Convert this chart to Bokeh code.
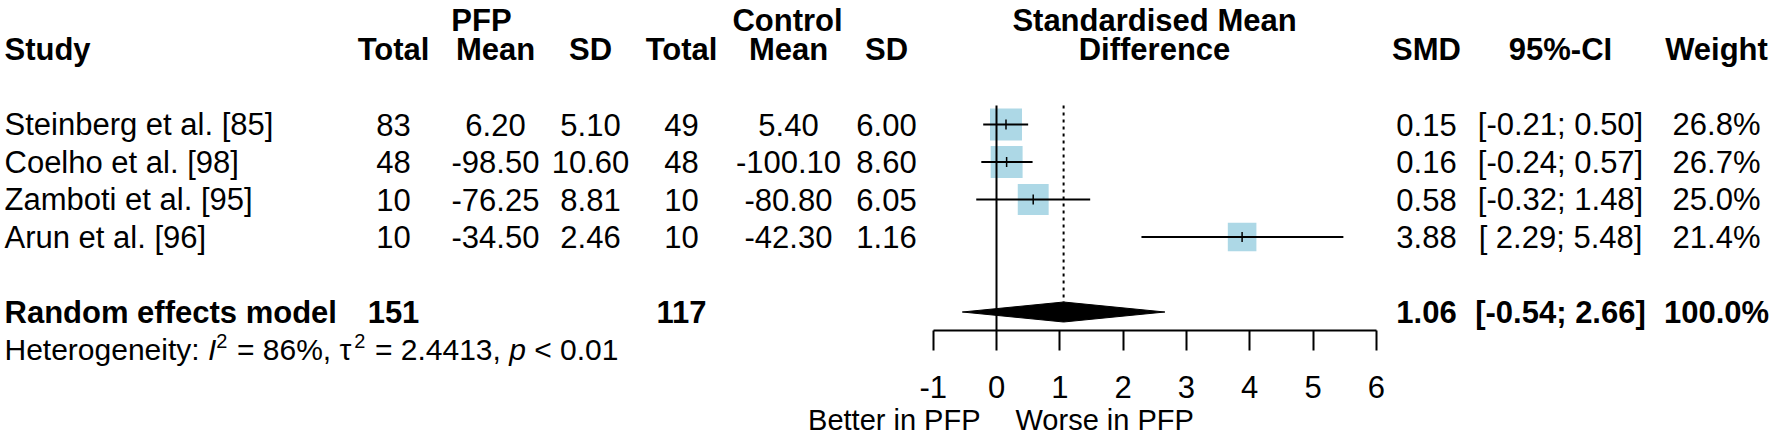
import math
from bokeh.plotting import figure
from bokeh.models import Range1d, LinearAxis, FixedTicker, ColumnDataSource
from bokeh.core.properties import value
from bokeh.embed import file_html
from bokeh.resources import INLINE

# ---------------- data ----------------
studies = ["Steinberg et al. [85]", "Coelho et al. [98]", "Zamboti et al. [95]", "Arun et al. [96]"]
pfp_total = [83, 48, 10, 10]
pfp_mean = [6.20, -98.50, -76.25, -34.50]
pfp_sd = [5.10, 10.60, 8.81, 2.46]
ctrl_total = [49, 48, 10, 10]
ctrl_mean = [5.40, -100.10, -80.80, -42.30]
ctrl_sd = [6.00, 8.60, 6.05, 1.16]
smd = [0.15, 0.16, 0.58, 3.88]
ci_low = [-0.21, -0.24, -0.32, 2.29]
ci_high = [0.50, 0.57, 1.48, 5.48]
weight = [26.8, 26.7, 25.0, 21.4]

pooled_label = "Random effects model"
pooled_pfp_total = 151
pooled_ctrl_total = 117
pooled_smd = 1.06
pooled_low = -0.54
pooled_high = 2.66
pooled_weight = 100.0

het_i2 = 86
het_tau2 = 2.4413
het_p = "< 0.01"

tick_values = [-1, 0, 1, 2, 3, 4, 5, 6]
tick_labels = ["-1", "0", "1", "2", "3", "4", "5", "6"]
label_left = "Better in PFP"
label_right = "Worse in PFP"

# ---------------- layout constants ----------------
W, H = 1770, 439
FONT = "Liberation Sans"
FS = 31
FS_HET = 30
FS_BOTTOM = 29
X0_PAGE = 996.0       # page x of SMD = 0
PX_PER_UNIT = 63.3    # pixels per SMD unit
ROW_PX = 37.5
ROW1_PAGE = 124.0     # page y of first study row


def X(page_x):
    return (page_x - X0_PAGE) / PX_PER_UNIT


def R(page_y):
    return 1 + (page_y - ROW1_PAGE) / ROW_PX


p = figure(width=W, height=H,
           x_range=Range1d(X(0), X(W)),
           y_range=Range1d(R(H), R(0)),
           output_backend="svg", toolbar_location=None,
           x_axis_type=None, y_axis_type=None, min_border=0,
           outline_line_color=None, background_fill_color="white",
           border_fill_color="white")


def txt(xs, ys, texts, align="center", style="normal", size=FS, xo=None, baseline="middle"):
    n = len(texts)
    src = ColumnDataSource(dict(x=xs, y=ys, text=texts, xo=xo if xo is not None else [0] * n))
    p.text(x="x", y="y", text="text", source=src, x_offset="xo",
           text_font=value(FONT), text_font_size=value(f"{size}px"),
           text_font_style=style, text_align=align, text_baseline=baseline,
           text_color="black")


rows = [1, 2, 3, 4]
pool_row = 6
het_row = 7
hdr1 = R(20)
hdr2 = -1

# column centres (page px)
C_STUDY = 4
C_PT, C_PM, C_PS = 393, 495, 590
C_PFP = 481
C_CT, C_CM, C_CS = 681, 788, 886
C_CTRL = 787
C_FOREST = 1154
C_SMD, C_CI, C_W = 1426, 1560, 1716

f2 = lambda v: f"{v:.2f}"

# ---------------- headers ----------------
txt([X(C_PFP), X(C_CTRL), X(C_FOREST)], [hdr1] * 3, ["PFP", "Control", "Standardised Mean"], style="bold")
txt([X(C_STUDY)], [hdr2], ["Study"], align="left", style="bold")
txt([X(c) for c in (C_PT, C_PM, C_PS, C_CT, C_CM, C_CS, C_FOREST, C_SMD, C_CI, C_W)], [hdr2] * 10,
    ["Total", "Mean", "SD", "Total", "Mean", "SD", "Difference", "SMD", "95%-CI", "Weight"], style="bold")

# ---------------- study rows ----------------
txt([X(C_STUDY)] * 4, rows, studies, align="left")
txt([X(C_PT)] * 4, rows, [str(v) for v in pfp_total])
txt([X(C_PM)] * 4, rows, [f2(v) for v in pfp_mean])
txt([X(C_PS)] * 4, rows, [f2(v) for v in pfp_sd])
txt([X(C_CT)] * 4, rows, [str(v) for v in ctrl_total])
txt([X(C_CM)] * 4, rows, [f2(v) for v in ctrl_mean])
txt([X(C_CS)] * 4, rows, [f2(v) for v in ctrl_sd])
txt([X(C_SMD)] * 4, rows, [f2(v) for v in smd])
txt([X(C_CI)] * 4, rows, [f"[{lo:5.2f}; {hi:.2f}]".replace(" ", "\u00a0") for lo, hi in zip(ci_low, ci_high)])
txt([X(C_W)] * 4, rows, [f"{w:.1f}%" for w in weight])

# ---------------- pooled row ----------------
txt([X(C_STUDY)], [pool_row], [pooled_label], align="left", style="bold")
txt([X(C_PT), X(C_CT), X(C_SMD), X(C_CI), X(C_W)], [pool_row] * 5,
    [str(pooled_pfp_total), str(pooled_ctrl_total), f2(pooled_smd),
     f"[{pooled_low:5.2f}; {pooled_high:.2f}]", f"{pooled_weight:.1f}%"], style="bold")

# ---------------- heterogeneity line (mixed styles) ----------------
EM = {" ": .278, "\u00a0": .278, "%": .889, ",": .278, ".": .278, "=": .584, "<": .584, ":": .278,
      "H": .722, "e": .556, "t": .278, "r": .333, "o": .556, "g": .556, "n": .556,
      "i": .222, "y": .5, "I": .278, "p": .556, "\u03c4": .49}
for d in "0123456789":
    EM[d] = .556


def em(s):
    return sum(EM.get(c, .556) for c in s)


SUP = 0.68
NB = "\u00a0"
pieces = [("Heterogeneity:" + NB, "normal", 1.0), ("I", "italic", 1.0), ("2", "normal", SUP),
          (f"{NB}={NB}{het_i2}%,{NB}", "normal", 1.0), ("\u03c4", "normal", 1.0), ("2", "normal", SUP),
          (f"{NB}={NB}{het_tau2:.4f},{NB}", "normal", 1.0), ("p", "italic", 1.0),
          (NB + het_p.replace(" ", NB), "normal", 1.0)]
off = 0.0
for t, st, sc in pieces:
    size = FS_HET * sc
    y = het_row - (9 / ROW_PX if sc < 1 else 0)
    txt([X(C_STUDY)], [y], [t], align="left", style=st, size=round(size), xo=[off])
    off += em(t) * size + (1 if sc < 1 else 0)

# ---------------- forest ----------------
SQ_K = 6.18
sizes = [SQ_K * math.sqrt(w) for w in weight]
p.scatter(x=smd, y=rows, marker="square", size=sizes, fill_color="#add8e6", line_color=None)
p.segment(x0=ci_low, y0=rows, x1=ci_high, y1=rows, line_color="black", line_width=2)
p.scatter(x=smd, y=rows, marker="dash", angle=math.pi / 2, size=10, line_color="black", line_width=1.5)

DH = 10 / ROW_PX
p.patch(x=[pooled_low, pooled_smd, pooled_high, pooled_smd],
        y=[pool_row, pool_row - DH, pool_row, pool_row + DH],
        fill_color="black", line_color="black", line_width=1)

top_r = R(105)
axis_r = R(330)
p.segment(x0=[0], y0=[top_r], x1=[0], y1=[axis_r], line_color="black", line_width=2)
p.segment(x0=[pooled_smd], y0=[top_r], x1=[pooled_smd], y1=[pool_row - DH],
          line_color="black", line_width=2, line_dash="3 4")

ax = LinearAxis(fixed_location=axis_r, bounds=(tick_values[0], tick_values[-1]),
                ticker=FixedTicker(ticks=tick_values),
                major_tick_out=20, major_tick_in=0, minor_tick_out=0, minor_tick_in=0,
                axis_line_width=2, axis_line_color="black",
                major_tick_line_width=2, major_tick_line_color="black",
                major_label_standoff=25, major_label_text_font=FONT,
                major_label_text_font_size=f"{FS}px", major_label_text_color="black",
                major_label_overrides={v: s for v, s in zip(tick_values, tick_labels)})
p.add_layout(ax, "below")

txt([X(980)], [R(419)], [label_left], align="right", size=FS_BOTTOM)
txt([X(1015)], [R(419)], [label_right], align="left", size=FS_BOTTOM)

open("out.html", "w").write(file_html(p, INLINE))
